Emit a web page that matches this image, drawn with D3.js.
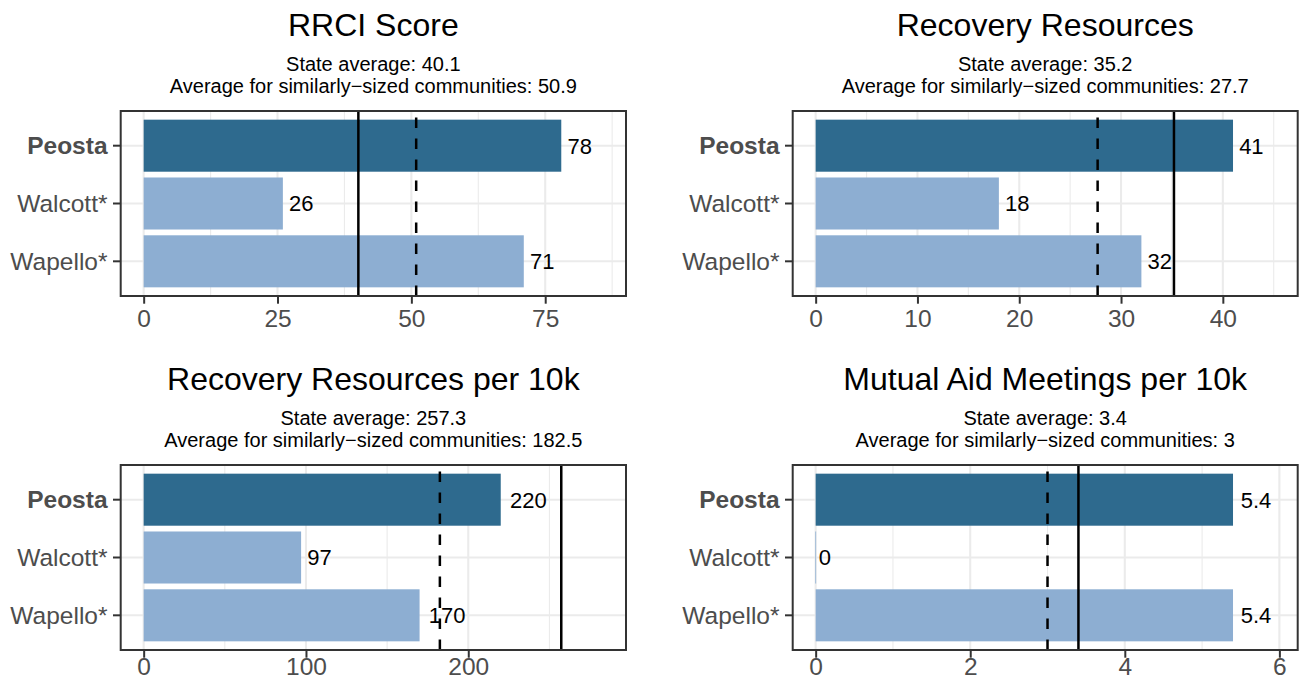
<!DOCTYPE html>
<html>
<head>
<meta charset="utf-8">
<script src="https://cdn.jsdelivr.net/npm/d3@7"></script>
<style>
  html, body { margin: 0; padding: 0; background: #fff; }
  svg { display: block; }
  text { font-family: "Liberation Sans", Arial, Helvetica, sans-serif; }
</style>
</head>
<body>
<svg id="chart" width="1299" height="684"></svg>
<script>
// ---------------- data ----------------
const categories = ["Peosta", "Walcott*", "Wapello*"];
const highlight = "Peosta";
const panelTitles = ["RRCI Score", "Recovery Resources", "Recovery Resources per 10k", "Mutual Aid Meetings per 10k"];
const rrciScore = [78, 26, 71];
const recoveryResources = [41, 18, 32];
const resourcesPer10k = [220, 97, 170];
const meetingsPer10k = [5.4, 0, 5.4];
const seriesValues = [rrciScore, recoveryResources, resourcesPer10k, meetingsPer10k];
const valueLabels = [["78", "26", "71"], ["41", "18", "32"], ["220", "97", "170"], ["5.4", "0", "5.4"]];
const stateAverage = [40.1, 35.2, 257.3, 3.4];
const similarAverage = [50.9, 27.7, 182.5, 3];
const stateAverageLabels = ["40.1", "35.2", "257.3", "3.4"];
const similarAverageLabels = ["50.9", "27.7", "182.5", "3"];
const tickValues = [[0, 25, 50, 75], [0, 10, 20, 30, 40], [0, 100, 200], [0, 2, 4, 6]];

// ---------------- layout ----------------
const panelBoxes = [
  { x0: 120.7, x1: 626, y0: 111, y1: 296, tickPad: 5.9 },
  { x0: 792.7, x1: 1297.7, y0: 111, y1: 296, tickPad: 5.9 },
  { x0: 120.7, x1: 626, y0: 465, y1: 650, tickPad: 0.3 },
  { x0: 792.7, x1: 1297.7, y0: 465, y1: 650, tickPad: 0.3 }
];
const darkFill = "#2E6A8E";
const lightFill = "#8DAED2";
const gridColor = "#EBEBEB";
const frameColor = "#333333";

const svg = d3.select("#chart");

panelBoxes.forEach((b, p) => {
  const vals = seriesValues[p];
  const M = d3.max([...vals, stateAverage[p], similarAverage[p]]) * 1.1;
  const x = d3.scaleLinear().domain([-0.05 * M, 1.05 * M]).range([b.x0, b.x1]);
  const y = d3.scaleBand().domain(categories).range([b.y0, b.y1]).paddingInner(0.1).paddingOuter(0.15);
  const g = svg.append("g");

  // grid: minor
  const ticks = tickValues[p];
  const step = ticks[1] - ticks[0];
  const minor = [];
  for (let v = ticks[0] - step / 2; v <= x.domain()[1]; v += step) {
    if (v >= x.domain()[0]) minor.push(v);
  }
  g.selectAll(".minor").data(minor).join("line")
    .attr("x1", d => x(d)).attr("x2", d => x(d))
    .attr("y1", b.y0).attr("y2", b.y1)
    .attr("stroke", gridColor).attr("stroke-width", 1.1);
  // grid: major
  g.selectAll(".major").data(ticks).join("line")
    .attr("x1", d => x(d)).attr("x2", d => x(d))
    .attr("y1", b.y0).attr("y2", b.y1)
    .attr("stroke", gridColor).attr("stroke-width", 2.1);
  g.selectAll(".hmajor").data(categories).join("line")
    .attr("x1", b.x0).attr("x2", b.x1)
    .attr("y1", d => y(d) + y.bandwidth() / 2).attr("y2", d => y(d) + y.bandwidth() / 2)
    .attr("stroke", gridColor).attr("stroke-width", 2.1);

  // bars
  g.selectAll(".bar").data(categories).join("rect")
    .attr("x", x(0))
    .attr("y", d => y(d))
    .attr("width", (d, i) => Math.max(0, x(vals[i]) - x(0)))
    .attr("height", y.bandwidth())
    .attr("fill", d => d === highlight ? darkFill : lightFill);
  // zero-width bar hint
  g.selectAll(".zerobar").data(categories.filter((d, i) => vals[i] === 0)).join("line")
    .attr("x1", x(0)).attr("x2", x(0))
    .attr("y1", d => y(d)).attr("y2", d => y(d) + y.bandwidth())
    .attr("stroke", lightFill).attr("stroke-width", 0.8);

  // value labels
  g.selectAll(".vlab").data(categories).join("text")
    .attr("x", (d, i) => x(vals[i]))
    .attr("y", d => y(d) + y.bandwidth() / 2 + 7.9)
    .attr("font-size", 22)
    .attr("fill", "#000")
    .text((d, i) => valueLabels[p][i])
    .each(function () {
      const w = this.getComputedTextLength();
      d3.select(this).attr("x", +d3.select(this).attr("x") + 0.25 * w);
    });

  // reference lines (drawn bottom -> top so the dash pattern starts at the bottom)
  g.append("line")
    .attr("x1", x(stateAverage[p])).attr("x2", x(stateAverage[p]))
    .attr("y1", b.y1).attr("y2", b.y0)
    .attr("stroke", "#000").attr("stroke-width", 2.5);
  g.append("line")
    .attr("x1", x(similarAverage[p])).attr("x2", x(similarAverage[p]))
    .attr("y1", b.y1).attr("y2", b.y0)
    .attr("stroke", "#000").attr("stroke-width", 2.5)
    .attr("stroke-dasharray", "10.5,10.5");

  // panel border
  g.append("rect")
    .attr("x", b.x0).attr("y", b.y0)
    .attr("width", b.x1 - b.x0).attr("height", b.y1 - b.y0)
    .attr("fill", "none").attr("stroke", frameColor).attr("stroke-width", 2);

  // x axis
  const xa = g.append("g").attr("transform", `translate(0,${b.y1})`)
    .call(d3.axisBottom(x).tickValues(ticks).tickFormat(d3.format("d")).tickSize(7.7).tickPadding(b.tickPad));
  xa.select(".domain").remove();
  xa.selectAll(".tick line").attr("stroke", frameColor).attr("stroke-width", 2);
  xa.selectAll(".tick text").attr("font-size", 24.5).attr("fill", "#4D4D4D")
    .attr("font-family", "'Liberation Sans', Arial, Helvetica, sans-serif");

  // y axis
  const ya = g.append("g").attr("transform", `translate(${b.x0},0)`)
    .call(d3.axisLeft(y).tickSize(7.7).tickPadding(5.5));
  ya.select(".domain").remove();
  ya.selectAll(".tick line").attr("stroke", frameColor).attr("stroke-width", 2);
  ya.selectAll(".tick text").attr("font-size", 24.5).attr("fill", "#4D4D4D")
    .attr("dy", "0.35em")
    .attr("font-family", "'Liberation Sans', Arial, Helvetica, sans-serif")
    .attr("font-weight", d => d === highlight ? "bold" : "normal");

  // titles
  const cx = (b.x0 + b.x1) / 2;
  g.append("text").attr("x", cx).attr("y", b.y0 - 75.3)
    .attr("text-anchor", "middle").attr("font-size", 32).attr("fill", "#000")
    .text(panelTitles[p]);
  g.append("text").attr("x", cx).attr("y", b.y0 - 40)
    .attr("text-anchor", "middle").attr("font-size", 20).attr("fill", "#000")
    .text("State average: " + stateAverageLabels[p]);
  g.append("text").attr("x", cx).attr("y", b.y0 - 18.3)
    .attr("text-anchor", "middle").attr("font-size", 20).attr("fill", "#000")
    .text("Average for similarly\u2212sized communities: " + similarAverageLabels[p]);
});
</script>
</body>
</html>
